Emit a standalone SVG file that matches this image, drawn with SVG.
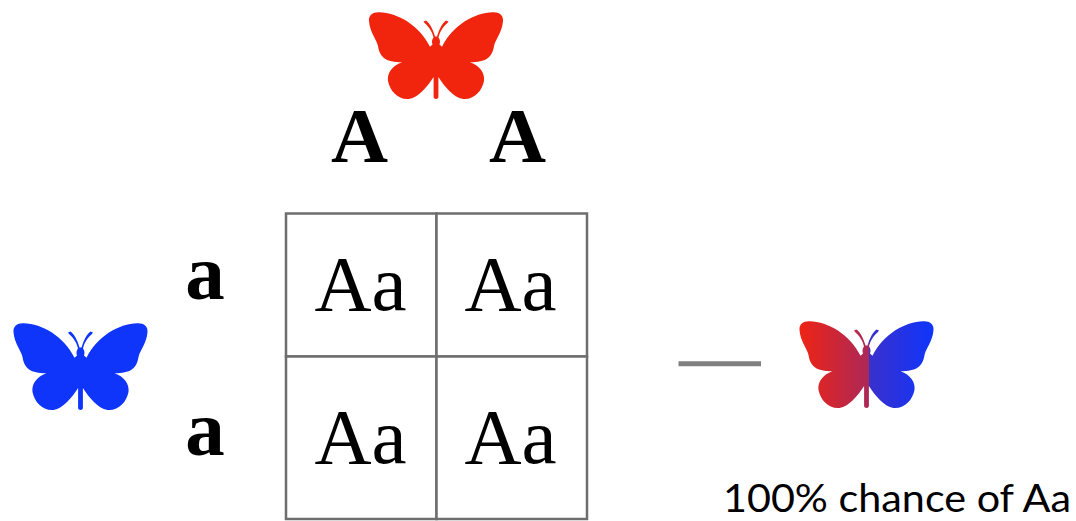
<svg xmlns="http://www.w3.org/2000/svg" xmlns:xlink="http://www.w3.org/1999/xlink" width="1076" height="521" viewBox="0 0 1076 521">
<style>
.cell{fill:#fff;stroke:#6e6e6e;stroke-width:2.5}
.geno{font-family:"Liberation Serif",serif;font-size:79px;fill:#000;text-anchor:middle}
.allele{font-family:"Liberation Serif",serif;font-weight:bold;font-size:79px;fill:#000;text-anchor:middle}
.cap{font-family:"Lato",sans-serif;font-size:38px;fill:#000}
</style>
<defs>
<linearGradient id="mix" gradientUnits="userSpaceOnUse" x1="-67" y1="0" x2="67" y2="0">
<stop offset="0" stop-color="#ee2414"/><stop offset="0.518" stop-color="#ac2858"/><stop offset="0.518" stop-color="#3a30cc"/><stop offset="1" stop-color="#0f35fb"/>
</linearGradient>
<g id="bf">
<path d="M-2.400 97V77C-9 87-17 97-27 99C-38 100-46 91-48 81C-49 73-44 66-34 62.300C-50 62-56 58-58 46C-60 38-66 33-67 21C-67.500 15-63 12-57 12.300C-38 13-17 25-6 46.700L-3.500 44.500C-4.500 42-4 39-2.500 37.500C-4 31-7 27-11 23.500L-12.500 21.500L-10 20.500C-6 23-3 30-1 36.500H1C3 30 6 23 10 20.500L12.500 21.500L11 23.500C7 27 4 31 2.500 37.500C4 39 4.500 42 3.500 44.500L6 46.700C17 25 38 13 57 12.300C63 12 67.500 15 67 21C66 33 60 38 58 46C56 58 50 62 34 62.300C44 66 49 73 48 81C46 91 38 100 27 99C17 97 9 87 2.400 77V97C2.400 99.500-2.400 99.500-2.400 97Z"/>
</g>
</defs>
<g id="connectors">
<line x1="678.500" y1="363.800" x2="761" y2="363.800" stroke="#808080" stroke-width="5"/>
</g>
<g id="parent-red"><use xlink:href="#bf" href="#bf" transform="translate(436,0)" fill="#f1240d"/></g>
<g id="parent-blue"><use xlink:href="#bf" href="#bf" transform="translate(80.500,311)" fill="#0f35fb"/></g>
<g id="offspring"><use xlink:href="#bf" href="#bf" transform="translate(866.500,309)" fill="url(#mix)"/></g>
<g id="allele-A1"><text class="allele" x="359.500" y="162">A</text></g>
<g id="allele-A2"><text class="allele" x="517.500" y="162">A</text></g>
<g id="allele-a1"><text class="allele" x="205" y="299">a</text></g>
<g id="allele-a2"><text class="allele" x="205" y="455">a</text></g>
<g id="cell-1"><rect class="cell" x="286" y="213.500" width="150.500" height="143"/><text class="geno" x="360.500" y="310">Aa</text></g>
<g id="cell-2"><rect class="cell" x="436.500" y="213.500" width="150.500" height="143"/><text class="geno" x="510.500" y="310">Aa</text></g>
<g id="cell-3"><rect class="cell" x="286" y="356.500" width="150.500" height="162.500"/><text class="geno" x="360.500" y="463">Aa</text></g>
<g id="cell-4"><rect class="cell" x="436.500" y="356.500" width="150.500" height="162.500"/><text class="geno" x="510.500" y="463">Aa</text></g>
<g id="caption"><text class="cap" x="723" y="512" textLength="348" lengthAdjust="spacingAndGlyphs">100% chance of Aa</text></g>
</svg>
